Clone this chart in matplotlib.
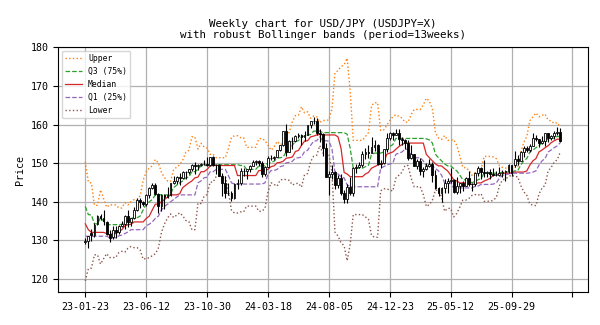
import numpy as np
import pandas as pd
import matplotlib
matplotlib.use('Agg')
import matplotlib.pyplot as plt

plt.rcParams['font.family'] = ['DejaVu Sans Mono']

PERIOD = 13

# closes of the 12 weeks before the first candle (only feed the bands)
prior_close = [146.6, 138.8, 140.4, 139.2, 134.3, 136.6, 136.7, 132.8, 131.1, 132.1, 127.9, 129.6]

opens = [129.6, 129.8, 131.9, 131.3, 134.2, 136.3, 135.9, 134.7, 131.8, 130.9,
         132.7, 132.2, 133.8, 134.2, 136.4, 134.8, 135.7, 137.9, 140.5, 140.0,
         139.4, 141.8, 143.7, 144.4, 142.1, 138.8, 141.8, 141.2, 141.8, 144.9,
         145.4, 146.4, 146.2, 147.8, 147.8, 148.4, 149.4, 149.3, 149.6, 149.9,
         149.7, 149.4, 151.5, 149.6, 149.4, 146.8, 144.9, 142.2, 142.4, 141.0,
         144.6, 144.9, 148.1, 148.1, 148.4, 149.3, 150.2, 150.5, 150.1, 147.1,
         149.1, 151.4, 151.3, 151.6, 153.3, 154.6, 158.3, 153.0, 155.8, 155.7,
         157.0, 157.3, 156.8, 157.4, 159.8, 160.9, 160.8, 157.9, 157.5, 153.8,
         146.5, 147.2, 147.6, 144.4, 146.2, 142.3, 140.8, 143.9, 142.2, 148.7,
         149.1, 149.5, 152.3, 152.9, 152.6, 154.3, 154.8, 149.8, 150.0, 153.6,
         156.4, 157.8, 157.3, 157.7, 156.3, 156.0, 155.2, 151.4, 152.3, 149.3,
         150.6, 148.0, 148.6, 149.3, 149.8, 146.9, 143.5, 142.2, 143.6, 144.9,
         145.4, 145.7, 142.5, 144.0, 144.9, 144.1, 146.1, 144.6, 144.5, 147.4,
         148.8, 147.7, 147.4, 147.7, 147.2, 146.9, 147.0, 147.4, 147.7, 148.0,
         149.5, 149.5, 151.2, 150.6, 152.9, 154.0, 153.4, 154.5, 156.4, 156.2,
         155.3, 155.8, 157.7, 156.5, 156.9, 157.9, 158.1]
highs = [130.6, 131.2, 132.9, 134.6, 136.5, 136.9, 137.9, 135.1, 132.6, 133.8,
         133.8, 134.0, 135.1, 136.6, 137.8, 135.8, 138.7, 140.9, 140.9, 140.2,
         141.9, 143.9, 145.0, 144.9, 142.2, 142.0, 142.0, 143.9, 145.0, 146.6,
         146.6, 147.4, 147.9, 148.0, 148.5, 149.7, 150.2, 149.8, 150.1, 150.8,
         151.7, 151.6, 151.9, 149.8, 149.7, 147.5, 146.6, 144.9, 142.8, 145.0,
         146.0, 148.8, 148.7, 148.6, 149.6, 150.9, 150.8, 150.8, 150.6, 149.2,
         151.9, 152.0, 151.9, 153.4, 154.8, 158.4, 160.2, 155.9, 156.8, 157.2,
         157.7, 157.5, 158.3, 159.9, 161.0, 161.9, 161.8, 158.9, 157.9, 155.2,
         147.9, 149.4, 148.0, 147.0, 147.2, 143.1, 144.5, 146.5, 149.0, 149.9,
         150.3, 153.2, 153.9, 154.7, 156.7, 155.9, 154.9, 150.8, 153.7, 157.9,
         158.1, 158.0, 158.9, 158.9, 156.8, 156.2, 155.9, 154.8, 152.4, 151.2,
         151.3, 148.9, 150.0, 151.2, 150.4, 148.3, 143.9, 143.8, 145.9, 146.2,
         148.7, 145.9, 146.3, 144.5, 145.5, 146.3, 148.0, 145.0, 147.7, 149.2,
         149.0, 150.9, 148.0, 148.5, 148.8, 147.9, 149.1, 148.2, 148.3, 149.9,
         149.6, 153.2, 152.2, 153.1, 154.4, 154.5, 155.0, 157.9, 157.2, 156.2,
         156.9, 157.8, 157.8, 157.2, 158.2, 159.4, 159.2]
lows = [129.0, 128.1, 129.8, 130.9, 133.9, 135.3, 134.1, 131.4, 129.6, 130.4,
        130.6, 131.8, 133.5, 133.0, 133.5, 133.7, 135.5, 137.6, 138.4, 138.8,
        138.8, 141.0, 143.2, 141.8, 137.2, 137.7, 138.1, 141.0, 141.5, 144.5,
        144.5, 144.4, 145.9, 145.9, 147.3, 148.1, 147.3, 148.2, 149.2, 149.6,
        149.2, 149.3, 149.2, 147.2, 146.7, 141.6, 140.9, 141.7, 140.3, 140.8,
        143.4, 144.3, 146.6, 145.9, 147.6, 149.2, 149.6, 149.2, 146.5, 146.6,
        148.9, 150.8, 150.8, 151.6, 153.2, 154.5, 151.9, 153.0, 153.6, 155.4,
        156.4, 154.6, 155.7, 157.2, 159.2, 160.2, 157.4, 155.4, 151.9, 146.4,
        141.7, 145.8, 143.4, 143.5, 141.8, 139.6, 139.6, 141.7, 141.6, 147.4,
        148.8, 149.1, 151.2, 151.3, 152.6, 153.2, 149.5, 148.7, 149.7, 152.9,
        156.0, 156.0, 157.2, 154.8, 154.8, 153.7, 150.9, 151.0, 149.3, 148.6,
        146.9, 146.5, 148.2, 149.1, 145.2, 143.2, 141.6, 139.9, 142.2, 142.4,
        144.9, 142.4, 142.1, 142.4, 142.8, 144.0, 144.0, 142.7, 144.2, 146.6,
        145.9, 146.3, 146.3, 145.9, 146.6, 146.7, 146.7, 146.3, 145.5, 147.5,
        146.6, 149.1, 149.4, 150.5, 151.7, 152.8, 153.0, 154.4, 155.7, 154.3,
        154.9, 154.4, 155.6, 155.9, 156.3, 157.3, 155.6]
closes = [129.8, 131.2, 131.4, 134.1, 136.4, 135.9, 135.0, 131.8, 130.7, 132.8,
          132.2, 133.8, 134.2, 136.3, 134.8, 135.7, 137.9, 140.6, 140.0, 139.4,
          141.8, 143.7, 144.3, 142.1, 138.8, 141.8, 141.2, 141.8, 144.9, 145.4,
          146.4, 146.2, 147.8, 147.8, 148.4, 149.4, 149.3, 149.6, 149.9, 149.7,
          149.4, 151.5, 149.6, 149.4, 146.8, 144.9, 142.2, 142.4, 141.0, 144.6,
          144.9, 148.1, 148.1, 148.4, 149.3, 150.2, 150.5, 150.1, 147.1, 149.1,
          151.4, 151.3, 151.6, 153.3, 154.6, 158.3, 153.0, 155.8, 155.7, 157.0,
          157.3, 156.8, 157.4, 159.8, 160.9, 160.8, 157.9, 157.5, 153.8, 146.5,
          147.2, 147.6, 144.4, 146.2, 142.3, 140.8, 143.9, 142.2, 148.7, 149.1,
          149.5, 152.3, 152.9, 152.6, 154.3, 154.8, 149.8, 150.0, 153.6, 156.4,
          157.8, 157.3, 157.7, 156.3, 156.0, 155.2, 151.4, 152.3, 149.3, 150.6,
          148.0, 148.6, 149.3, 149.8, 146.9, 143.5, 142.2, 143.6, 144.9, 145.4,
          145.7, 142.5, 144.0, 144.9, 144.1, 146.1, 144.6, 144.5, 147.4, 148.8,
          147.7, 147.4, 147.7, 147.2, 146.9, 147.0, 147.4, 147.7, 148.0, 149.5,
          147.5, 151.2, 150.6, 152.9, 154.0, 153.4, 154.5, 156.4, 156.2, 155.3,
          155.8, 157.7, 156.5, 156.9, 157.9, 158.1, 155.7]

tick_labels = ['23-01-23', '23-06-12', '23-10-30', '24-03-18', '24-08-05',
               '24-12-23', '25-05-12', '25-09-29', '']

# robust bands: rolling quartiles of the close, +-1.5 IQR
s = pd.Series(prior_close + closes)
roll = s.rolling(PERIOD)
n0 = len(prior_close)
q1 = roll.quantile(0.25).values[n0:]
med = roll.quantile(0.5).values[n0:]
q3 = roll.quantile(0.75).values[n0:]
iqr = q3 - q1
upper = q3 + 1.5 * iqr
lower = q1 - 1.5 * iqr

o = np.array(opens); h = np.array(highs); l = np.array(lows); c = np.array(closes)
x = np.arange(len(c))

fig = plt.figure(figsize=(6, 3.25), dpi=100)
ax = fig.add_axes([0.097, 0.1006, 0.8825, 0.7554])

ax.plot(x, upper, ':', color='tab:orange', lw=1, label='Upper')
ax.plot(x, q3, '--', color='tab:green', lw=0.9, label='Q3 (75%)')
ax.plot(x, med, '-', color='tab:red', lw=0.9, label='Median')
ax.plot(x, q1, '--', color='tab:purple', lw=0.9, label='Q1 (25%)')
ax.plot(x, lower, ':', color='tab:brown', lw=1, label='Lower')

ax.vlines(x, l, h, color='k', lw=0.8, zorder=3)
up = c >= o
ax.bar(x[up], (c - o)[up], bottom=o[up], width=0.6, color='w', edgecolor='k', lw=0.6, zorder=4)
ax.bar(x[~up], (o - c)[~up], bottom=c[~up], width=0.6, color='k', edgecolor='k', lw=0.6, zorder=4)

ax.set_xlim(-8.9, 165)
ax.set_ylim(116.6, 180.1)
ax.set_xticks(np.arange(0, 161, 20))
ax.set_xticklabels(tick_labels, fontsize=7.2)
ax.set_yticks(np.arange(120, 181, 10))
ax.tick_params(axis='y', labelsize=7.2)
ax.grid(True, color='#b0b0b0', lw=0.9)
ax.set_axisbelow(True)
ax.set_ylabel('Price', fontsize=7.2)
ax.set_title('Weekly chart for USD/JPY (USDJPY=X)\nwith robust Bollinger bands (period=13weeks)',
             fontsize=7.8)
ax.legend(loc='upper left', fontsize=5.8)

fig.savefig('out.png', dpi=100)
